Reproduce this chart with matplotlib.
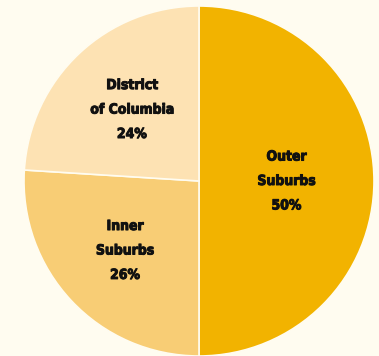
import matplotlib.pyplot as plt
import matplotlib.patheffects as pe
import numpy as np

regions = ["Outer\nSuburbs", "Inner\nSuburbs", "District\nof Columbia"]
shares = [50, 26, 24]
colors = ["#F2B300", "#F8CD75", "#FDE2B3"]
label_dist = [0.50, 0.58, 0.56]

bg = "#FFFCF0"
fig = plt.figure(figsize=(3.79, 3.56), dpi=100, facecolor=bg)
ax = fig.add_axes([0, 0, 1, 1])
ax.set_facecolor(bg)

wedges, _ = ax.pie(shares, colors=colors, startangle=90, counterclock=False,
                   center=(199, 175), radius=175,
                   wedgeprops=dict(edgecolor="#FFFCF0", linewidth=1.2))

# bold condensed labels, thickened a little with a stroke
for w, name, pct, d in zip(wedges, regions, shares, label_dist):
    mid = np.deg2rad((w.theta1 + w.theta2) / 2)
    x = w.center[0] + d * w.r * np.cos(mid)
    y = w.center[1] + d * w.r * np.sin(mid)
    ax.text(x, y, f"{name}\n{pct}%", ha="center", va="center",
            fontsize=10, fontweight="bold", fontstretch="condensed",
            linespacing=1.95, family="DejaVu Sans", color="#111111",
            path_effects=[pe.withStroke(linewidth=0.7, foreground="#111111")])

ax.set_xlim(0, 379)
ax.set_ylim(0, 356)
ax.set_aspect("equal")
ax.axis("off")

fig.savefig("out.png", dpi=100, facecolor=bg)
